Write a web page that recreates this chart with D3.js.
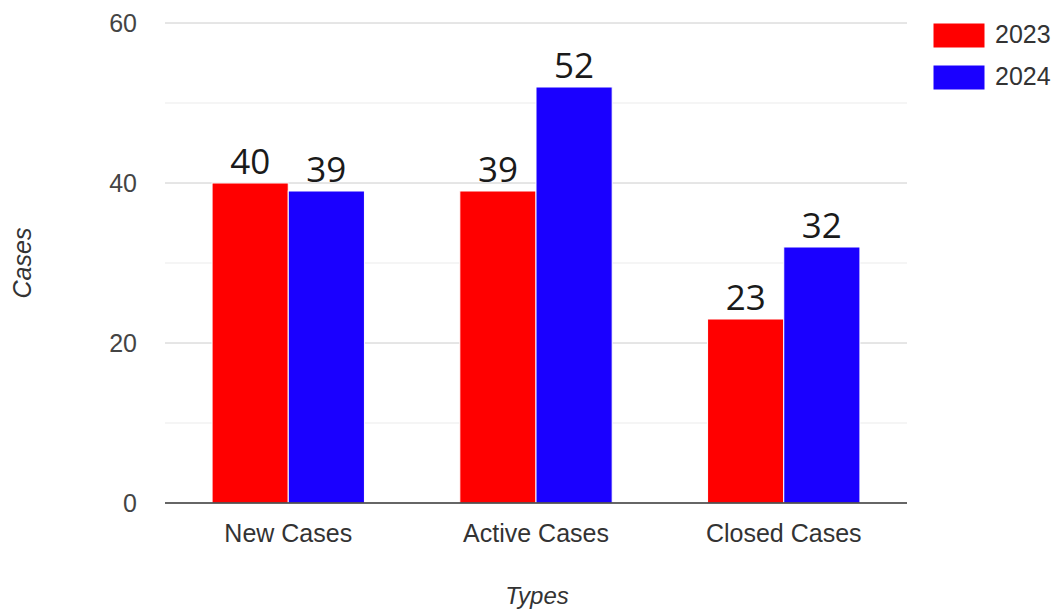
<!DOCTYPE html>
<html lang="en">
<head>
    <meta charset="UTF-8">
    <script src="https://d3js.org/d3.v7.min.js"></script>
    <style>
        body { margin: 0; background: #fff; }
        text { font-family: "Liberation Sans", Arial, sans-serif; }
    </style>
</head>
<body>
    <div id="chart"></div>
    <script>
        // Data
        const categories = ["New Cases", "Active Cases", "Closed Cases"];
        const seriesNames = ["2023", "2024"];
        const values2023 = [40, 39, 23];
        const values2024 = [39, 52, 32];
        const majorTicks = [0, 20, 40, 60];
        const minorTicks = [10, 30, 50];
        const colors = ["#ff0000", "#1a00ff"];

        const width = 1057;
        const height = 614;
        const margin = { left: 165, right: 150, top: 23, bottom: 111 };

        const svg = d3.select("#chart")
            .append("svg")
            .attr("width", width)
            .attr("height", height);

        const x0 = d3.scaleBand()
            .domain(categories)
            .range([margin.left, width - margin.right])
            .paddingInner(0.385)
            .paddingOuter(0.19);

        const x1 = d3.scaleBand()
            .domain(seriesNames)
            .range([0, x0.bandwidth()]);

        const y = d3.scaleLinear()
            .domain([0, 60])
            .range([height - margin.bottom, margin.top]);

        // Gridlines
        svg.append("g").selectAll("line")
            .data(minorTicks)
            .join("line")
            .attr("x1", margin.left).attr("x2", width - margin.right)
            .attr("y1", d => y(d)).attr("y2", d => y(d))
            .attr("stroke", "#ebebeb");

        svg.append("g").selectAll("line")
            .data(majorTicks.filter(d => d > 0))
            .join("line")
            .attr("x1", margin.left).attr("x2", width - margin.right)
            .attr("y1", d => y(d)).attr("y2", d => y(d))
            .attr("stroke", "#cccccc");

        // Y tick labels
        svg.append("g").selectAll("text")
            .data(majorTicks)
            .join("text")
            .attr("x", 137)
            .attr("y", d => y(d) + 9)
            .attr("text-anchor", "end")
            .attr("font-size", 25)
            .attr("fill", "#444")
            .text(d => d);

        // Bars
        const rows = categories.map((c, i) => ({ cat: c, vals: [values2023[i], values2024[i]] }));

        const groups = svg.append("g").selectAll("g")
            .data(rows)
            .join("g")
            .attr("transform", d => `translate(${x0(d.cat)},0)`);

        groups.selectAll("rect")
            .data(d => d.vals.map((v, j) => ({ key: seriesNames[j], v, j })))
            .join("rect")
            .attr("x", d => x1(d.key))
            .attr("y", d => y(d.v))
            .attr("width", x1.bandwidth())
            .attr("height", d => y(0) - y(d.v))
            .attr("fill", d => colors[d.j])
            .attr("stroke", "#fff")
            .attr("stroke-width", 1);

        groups.selectAll("text.val")
            .data(d => d.vals.map((v, j) => ({ key: seriesNames[j], v, j })))
            .join("text")
            .attr("class", "val")
            .attr("x", d => x1(d.key) + x1.bandwidth() / 2)
            .attr("y", d => y(d.v) - 9)
            .attr("text-anchor", "middle")
            .attr("font-size", 35)
            .attr("fill", "#1a1a1a")
            .style("font-family", "'Open Sans', 'Noto Sans', sans-serif")
            .text(d => d.v);

        // Baseline
        svg.append("line")
            .attr("x1", margin.left).attr("x2", width - margin.right)
            .attr("y1", y(0)).attr("y2", y(0))
            .attr("stroke", "#333")
            .attr("stroke-width", 1.5);

        // X category labels
        svg.append("g").selectAll("text")
            .data(categories)
            .join("text")
            .attr("x", d => x0(d) + x0.bandwidth() / 2)
            .attr("y", 542)
            .attr("text-anchor", "middle")
            .attr("font-size", 25)
            .attr("fill", "#333")
            .text(d => d);

        // Axis titles
        svg.append("text")
            .attr("x", 537)
            .attr("y", 604)
            .attr("text-anchor", "middle")
            .attr("font-size", 24)
            .attr("font-style", "italic")
            .attr("fill", "#333")
            .text("Types");

        svg.append("text")
            .attr("transform", `translate(31,263) rotate(-90)`)
            .attr("text-anchor", "middle")
            .attr("font-size", 25)
            .attr("font-style", "italic")
            .attr("fill", "#333")
            .text("Cases");

        // Legend
        const legend = svg.append("g").selectAll("g")
            .data(seriesNames)
            .join("g")
            .attr("transform", (d, i) => `translate(933,${23 + i * 42})`);

        legend.append("rect")
            .attr("width", 52)
            .attr("height", 25)
            .attr("fill", (d, i) => colors[i])
            .attr("stroke", "#fff");

        legend.append("text")
            .attr("x", 62)
            .attr("y", 20)
            .attr("font-size", 25)
            .attr("fill", "#333")
            .text(d => d);
    </script>
</body>
</html>
